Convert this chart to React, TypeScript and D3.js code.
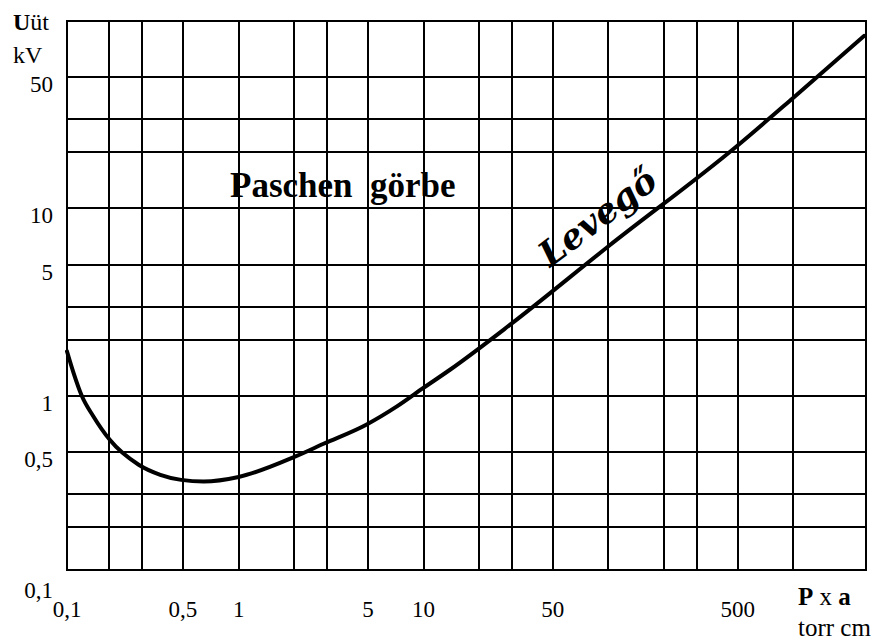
import { useEffect } from 'react';
import * as d3 from 'd3';

// Paschen curve for air (P x a in torr cm, U in kV)
const pxa = [
  0.118, 0.128, 0.142, 0.164, 0.201, 0.288, 0.377, 0.489, 0.647, 1.0, 2.03, 2.88, 4.9, 7.18,
  9.93, 13.9, 29.4, 100, 494, 1000, 2410,
];
const uut = [
  1.73, 1.33, 1.0, 0.778, 0.584, 0.43, 0.38, 0.357, 0.35, 0.37, 0.476, 0.556, 0.703, 0.88,
  1.1, 1.38, 2.4, 6.29, 21.5, 39, 83.2,
];

// the sheet is cropped a little above 0,1 on both axes
const X_MIN = 0.118;
const X_MAX = 2470;
const Y_MIN = 0.118;
const Y_MAX = 100;

const xGrid = [0.2, 0.3, 0.5, 1, 2, 3, 5, 10, 20, 30, 50, 100, 200, 300, 500, 1000];
const yGrid = [0.2, 0.3, 0.5, 1, 2, 3, 5, 10, 20, 30, 50];

const xTickValues = [X_MIN, 0.5, 1, 5, 10, 50, 500];
const xTickLabels = ['0,1', '0,5', '1', '5', '10', '50', '500'];
const yTickValues = [0.1, 0.5, 1, 5, 10, 50];
const yTickLabels = ['0,1', '0,5', '1', '5', '10', '50'];

const W = 880;
const H = 643;
const FONT = '"Liberation Serif", "Times New Roman", serif';

export default function App() {
  useEffect(() => {
    document.body.style.margin = '0';
  }, []);

  const x = d3.scaleLog().domain([X_MIN, X_MAX]).range([67, 866]);
  const y = d3.scaleLog().domain([Y_MIN, Y_MAX]).range([570, 21]);

  const points: [number, number][] = pxa.map((p, i) => [p, uut[i]]);
  const line = d3
    .line<[number, number]>()
    .x((d) => x(d[0]))
    .y((d) => y(d[1]))
    .curve(d3.curveMonotoneX);

  const [x0, x1] = x.range();
  const [y0, y1] = y.range();

  return (
    <svg width={W} height={H} style={{ display: 'block', background: '#fff' }} fontFamily={FONT}>
      {/* grid */}
      <g stroke="#000" strokeWidth={2} shapeRendering="crispEdges">
        {xGrid.map((v) => (
          <line key={`gx-${v}`} x1={x(v)} x2={x(v)} y1={y1} y2={y0} />
        ))}
        {yGrid.map((v) => (
          <line key={`gy-${v}`} x1={x0} x2={x1} y1={y(v)} y2={y(v)} />
        ))}
        <rect x={x0} y={y1} width={x1 - x0} height={y0 - y1} fill="none" strokeWidth={2.5} />
      </g>

      {/* curve */}
      <path d={line(points) ?? ''} fill="none" stroke="#000" strokeWidth={4} strokeLinecap="round" />

      {/* y tick labels */}
      <g fontSize={23} textAnchor="end">
        {yTickValues.map((v, i) => (
          <text key={`yt-${i}`} x={53} y={y(v) + 15}>
            {yTickLabels[i]}
          </text>
        ))}
      </g>

      {/* x tick labels */}
      <g fontSize={23} textAnchor="middle">
        {xTickValues.map((v, i) => (
          <text key={`xt-${i}`} x={x(v)} y={617}>
            {xTickLabels[i]}
          </text>
        ))}
      </g>

      {/* axis titles */}
      <text x={13} y={30} fontSize={24}>
        <tspan fontWeight="bold">U</tspan>üt
      </text>
      <text x={13} y={63} fontSize={24}>
        kV
      </text>
      <text x={798} y={605} fontSize={25}>
        <tspan fontWeight="bold">P</tspan> x <tspan fontWeight="bold">a</tspan>
      </text>
      <text x={798} y={636} fontSize={25}>
        torr cm
      </text>

      {/* chart labels */}
      <text x={230} y={197} fontSize={35} fontWeight="bold" style={{ whiteSpace: 'pre' }}>
        {'Paschen  görbe'}
      </text>
      <text
        transform="translate(550,268) rotate(-37)"
        fontSize={35}
        fontWeight="bold"
        fontStyle="italic"
        fontFamily='"DejaVu Serif", serif'
      >
        Levegő
      </text>
    </svg>
  );
}
